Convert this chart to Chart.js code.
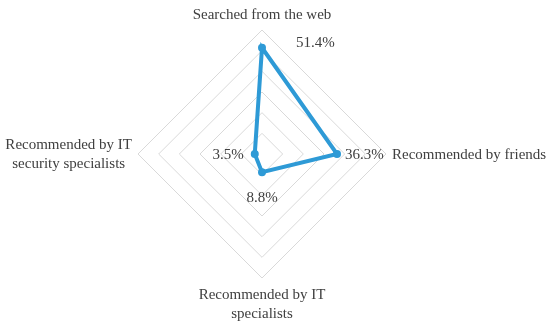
<!DOCTYPE html>
<html>
<head>
<meta charset="utf-8">
<script src="https://cdn.jsdelivr.net/npm/chart.js@4"></script>
<style>
  html, body { margin: 0; padding: 0; background: #fff; }
</style>
</head>
<body>
<canvas id="chart" width="550" height="328"></canvas>
<script>
const categories = [
  ['Searched from the web'],
  ['Recommended by friends'],
  ['Recommended by IT', 'specialists'],
  ['Recommended by IT', 'security specialists']
];
const shares = [51.4, 36.3, 8.8, 3.5];
const valueLabels = ['51.4%', '36.3%', '8.8%', '3.5%'];

const FONT = '15px "Liberation Serif", serif';
const TEXT = '#404040';

// where each value label sits relative to its point
const labelPlacement = [
  { dx: 34, dy: -5, align: 'left' },
  { dx: 8, dy: 1, align: 'left' },
  { dx: 0, dy: 26, align: 'center' },
  { dx: -11, dy: 1, align: 'right' }
];

// category labels drawn by hand so the diamond keeps its size
const categoryLabelPlugin = {
  id: 'categoryLabelPlugin',
  afterDraw(chart) {
    const ctx = chart.ctx;
    const r = chart.scales.r;
    const lineH = 19;
    ctx.save();
    ctx.font = FONT;
    ctx.fillStyle = TEXT;
    ctx.textAlign = 'center';
    ctx.textBaseline = 'middle';
    categories.forEach((lines, i) => {
      const v = r.getPointPosition(i, r.drawingArea);
      const w = Math.max(...lines.map(l => ctx.measureText(l).width));
      const h = lines.length * lineH;
      let cx = v.x, top = v.y;
      if (i === 0) { top = v.y - 15 - (lines.length - 1) * lineH; }
      else if (i === 1) { cx = v.x + 6 + w / 2; top = v.y + 1 - (h - lineH) / 2; }
      else if (i === 2) { top = v.y + 17; }
      else { cx = v.x - 6 - w / 2; top = v.y + 0.5 - (h - lineH) / 2; }
      lines.forEach((l, k) => ctx.fillText(l, cx, top + k * lineH));
    });

    const meta = chart.getDatasetMeta(0);
    meta.data.forEach((pt, i) => {
      const p = labelPlacement[i];
      ctx.textAlign = p.align;
      ctx.fillText(valueLabels[i], pt.x + p.dx, pt.y + p.dy);
    });
    ctx.restore();
  }
};

new Chart(document.getElementById('chart'), {
  type: 'radar',
  data: {
    labels: categories,
    datasets: [{
      data: shares,
      borderColor: '#2E9AD6',
      backgroundColor: '#2E9AD6',
      borderWidth: 4,
      pointRadius: 4,
      pointBackgroundColor: '#2E9AD6',
      pointBorderWidth: 0,
      fill: false,
      tension: 0
    }]
  },
  options: {
    responsive: false,
    animation: false,
    devicePixelRatio: 1,
    layout: { padding: { top: 30, bottom: 50, left: 138, right: 164 } },
    plugins: {
      legend: { display: false },
      tooltip: { enabled: false }
    },
    scales: {
      r: {
        min: 0,
        max: 60,
        ticks: { stepSize: 10, display: false },
        grid: { color: '#d9d9d9', lineWidth: 1 },
        angleLines: { display: false },
        pointLabels: { display: false }
      }
    }
  },
  plugins: [categoryLabelPlugin]
});
</script>
</body>
</html>
